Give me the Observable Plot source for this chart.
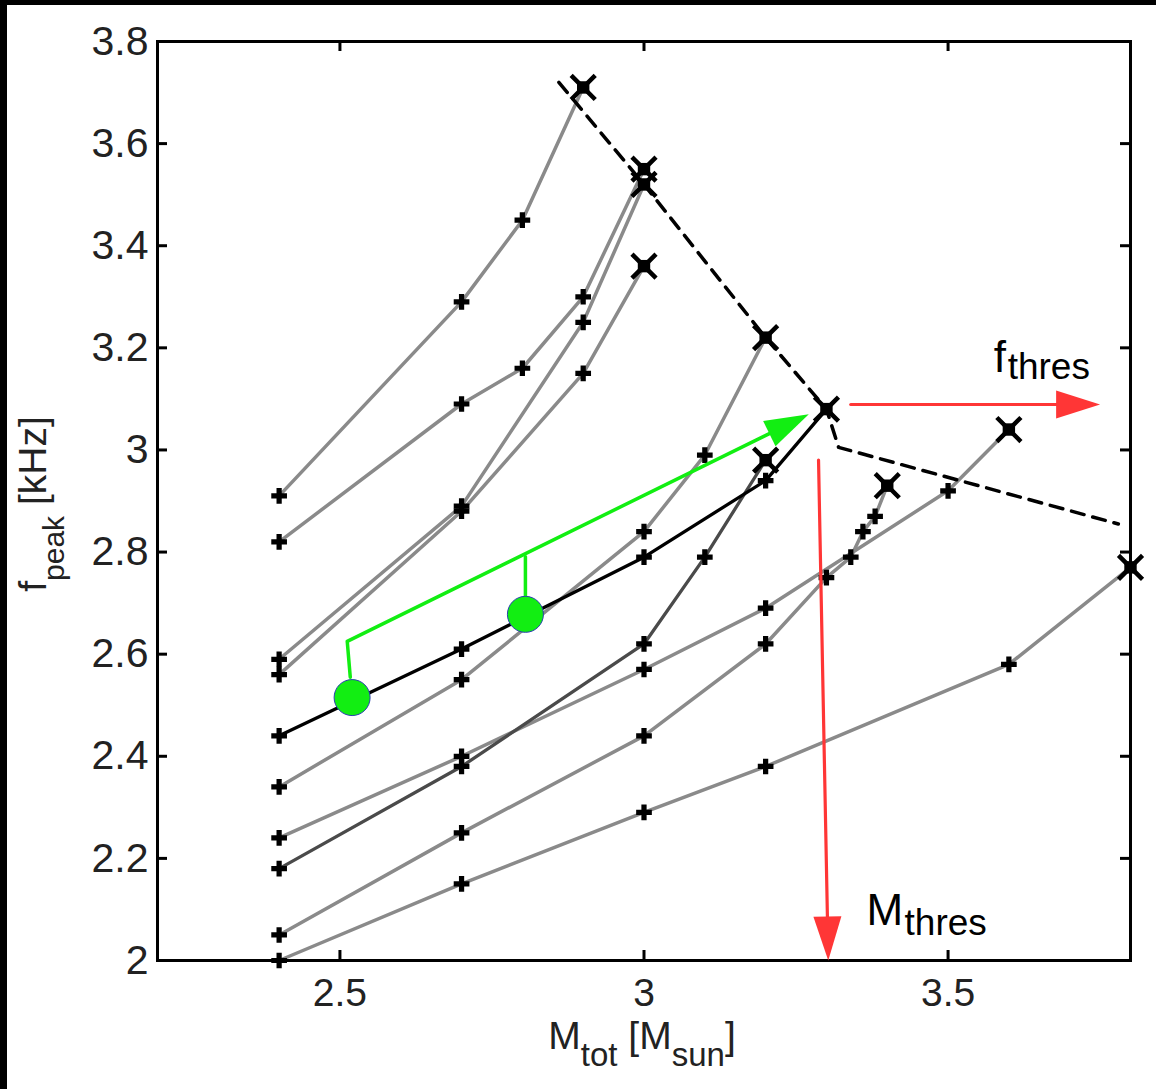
<!DOCTYPE html>
<html><head><meta charset="utf-8">
<script src="https://cdn.jsdelivr.net/npm/d3@7"></script>
<script src="https://cdn.jsdelivr.net/npm/@observablehq/plot@0.6"></script>
<style>
body{margin:0;background:#fff;}
#wrap{position:relative;width:1156px;height:1089px;overflow:hidden;background:#fff;}
#chart{position:absolute;left:0;top:0;}
.bar{position:absolute;background:#000;}
</style></head><body>
<div id="wrap"><div id="chart"></div>
<div class="bar" style="left:0;top:0;width:1156px;height:5px"></div>
<div class="bar" style="left:0;top:0;width:7px;height:1089px"></div></div>
<script>
// ---- tick values ----
const xTicks = [2.5, 3, 3.5];
const yTicks = [2, 2.2, 2.4, 2.6, 2.8, 3, 3.2, 3.4, 3.6, 3.8];

// ---- sequences: total mass [Msun] and peak frequency [kHz] ----
const mA = [2.4, 2.7, 2.8, 2.9];            const fA = [2.91, 3.29, 3.45, 3.71];
const mB = [2.4, 2.7, 2.8, 2.9, 3.0];       const fB = [2.82, 3.09, 3.16, 3.30, 3.55];
const mC = [2.4, 2.7, 2.9, 3.0];            const fC = [2.59, 2.89, 3.25, 3.52];
const mD = [2.4, 2.7, 2.9, 3.0];            const fD = [2.56, 2.88, 3.15, 3.36];
const mE = [2.4, 2.7, 3.0, 3.2, 3.3];       const fE = [2.44, 2.61, 2.79, 2.94, 3.08];
const mF = [2.4, 2.7, 3.0, 3.1, 3.2];       const fF = [2.34, 2.55, 2.84, 2.99, 3.22];
const mG = [2.4, 2.7, 3.0, 3.2, 3.5, 3.6];  const fG = [2.24, 2.40, 2.57, 2.69, 2.92, 3.04];
const mH = [2.4, 2.7, 3.0, 3.1, 3.2];       const fH = [2.18, 2.38, 2.62, 2.79, 2.98];
const mI = [2.4, 2.7, 3.0, 3.2, 3.3, 3.34, 3.36, 3.38, 3.4]; const fI = [2.05, 2.25, 2.44, 2.62, 2.75, 2.79, 2.84, 2.87, 2.93];
const mJ = [2.4, 2.7, 3.0, 3.2, 3.6, 3.8];  const fJ = [2.00, 2.15, 2.29, 2.38, 2.58, 2.77];
const seriesNames = ["A","B","C","D","E","F","G","H","I","J"];

// ---- threshold (dashed) curve ----
const thrM = [2.86, 3.0, 3.2, 3.3, 3.32, 3.78];
const thrF = [3.72, 3.52, 3.22, 3.08, 3.005, 2.855];

// ---- annotations ----
const circM = [2.52, 2.805];
const circF = [2.515, 2.678];
const greenPathM = [2.517, 2.512, 3.271];
const greenPathF = [2.555, 2.625, 3.07];
const greenStubM = [2.805, 2.805];
const greenStubF = [2.713, 2.791];
const fThresArrowM = [3.34, 3.75];
const fThresArrowF = [3.089, 3.089];
const mThresArrowM = [3.287, 3.303];
const mThresArrowF = [2.98, 2.0];
const fThresLabel = {main: "f", sub: "thres", m: 3.575, f: 3.152};
const mThresLabel = {main: "M", sub: "thres", m: 3.366, f: 2.069};

// ---- build tables ----
const seriesM = [mA,mB,mC,mD,mE,mF,mG,mH,mI,mJ];
const seriesF = [fA,fB,fC,fD,fE,fF,fG,fH,fI,fJ];
const rows = [];
seriesNames.forEach((s, k) => {
  seriesM[k].forEach((m, i) => rows.push({series: s, m, f: seriesF[k][i], end: i === seriesM[k].length - 1}));
});
const blackSeries = "E", darkSeries = "H";
const greyRows = rows.filter(d => d.series !== blackSeries && d.series !== darkSeries);
const darkRows = rows.filter(d => d.series === darkSeries);
const blackRows = rows.filter(d => d.series === blackSeries);
const zip = (ms, fs) => ms.map((m, i) => ({m, f: fs[i]}));

const W = 1156, H = 1089, mL = 157, mT = 41, mR = 26, mB_ = 129;
const fw = W - mL - mR, fh = H - mT - mB_;
const xDomain = [2.2, 3.8], yDomain = [2, 3.8];
const xs = Plot.scale({x: {domain: xDomain, range: [mL, W - mR]}});
const ys = Plot.scale({y: {domain: yDomain, range: [H - mB_, mT]}});

// arrow: returns shortened shaft + head symbol
const HEAD_L = 44, HEAD_W = 14;
function arrowParts(ms, fs) {
  const x1 = xs.apply(ms[0]), y1 = ys.apply(fs[0]), x2 = xs.apply(ms[1]), y2 = ys.apply(fs[1]);
  const dx = x2 - x1, dy = y2 - y1, len = Math.hypot(dx, dy);
  const ux = dx / len, uy = dy / len;
  const bx = x2 - ux * (HEAD_L - 4), by = y2 - uy * (HEAD_L - 4);
  const shaft = [{m: ms[0], f: fs[0]}, {m: xs.invert(bx), f: ys.invert(by)}];
  const symbol = {draw(ctx) {
    const px = -uy, py = ux;
    ctx.moveTo(0, 0);
    ctx.lineTo(-ux * HEAD_L + px * HEAD_W, -uy * HEAD_L + py * HEAD_W);
    ctx.lineTo(-ux * HEAD_L - px * HEAD_W, -uy * HEAD_L - py * HEAD_W);
    ctx.closePath();
  }};
  return {shaft, tip: [{m: ms[1], f: fs[1]}], symbol};
}
const redF = arrowParts(fThresArrowM, fThresArrowF);
const redM = arrowParts(mThresArrowM, mThresArrowF);
const gPath = zip(greenPathM, greenPathF);
const greenA = arrowParts(greenPathM.slice(1), greenPathF.slice(1));
const greenShaft = [gPath[0], gPath[1], greenA.shaft[1]];

const RED = "#ff3636", GREEN = "#12ee12";
const fmt = d => String(+d.toFixed(2));

const chart = Plot.plot({
  width: W, height: H, marginLeft: mL, marginTop: mT, marginRight: mR, marginBottom: mB_,
  x: {domain: xDomain}, y: {domain: yDomain},
  style: {fontFamily: "'Liberation Sans', Arial, sans-serif", background: "transparent", color: "#000"},
  marks: [
    Plot.axisX(xTicks, {tickSize: 0, tickPadding: 18, fontSize: 39, fill: "#222", tickFormat: fmt, label: null}),
    Plot.axisY(yTicks, {tickSize: 0, tickPadding: 9, fontSize: 41, fill: "#222", tickFormat: fmt, label: null}),
    Plot.tickX(xTicks, {x: d => d, insetTop: fh - 10, stroke: "#000", strokeWidth: 3}),
    Plot.tickX(xTicks, {x: d => d, insetBottom: fh - 10, stroke: "#000", strokeWidth: 3}),
    Plot.tickY(yTicks, {y: d => d, insetRight: fw - 10, stroke: "#000", strokeWidth: 3}),
    Plot.tickY(yTicks, {y: d => d, insetLeft: fw - 10, stroke: "#000", strokeWidth: 3}),
    Plot.frame({stroke: "#000", strokeWidth: 3}),
    Plot.line(greyRows, {x: "m", y: "f", z: "series", stroke: "#8a8a8a", strokeWidth: 3.5}),
    Plot.line(darkRows, {x: "m", y: "f", z: "series", stroke: "#4a4a4a", strokeWidth: 3.3}),
    Plot.line(blackRows, {x: "m", y: "f", z: "series", stroke: "#000", strokeWidth: 3.3}),
    Plot.line(zip(thrM, thrF), {x: "m", y: "f", stroke: "#000", strokeWidth: 3.5, strokeDasharray: "13,9"}),
    Plot.dot(rows.filter(d => !d.end), {x: "m", y: "f", symbol: "cross", r: 6.6, fill: "#000", stroke: null}),
    Plot.dot(rows.filter(d => d.end), {x: "m", y: "f", symbol: "times", r: 11, stroke: "#000", strokeWidth: 4.5}),
    Plot.dot(rows.filter(d => d.end), {x: "m", y: "f", symbol: "square", r: 7, fill: "#000", stroke: null}),
    // green annotation
    Plot.line(greenShaft, {x: "m", y: "f", stroke: GREEN, strokeWidth: 3.5}),
    Plot.line(zip(greenStubM, greenStubF), {x: "m", y: "f", stroke: GREEN, strokeWidth: 3.5}),
    Plot.dot(greenA.tip, {x: "m", y: "f", symbol: greenA.symbol, fill: GREEN, stroke: null}),
    Plot.dot(zip(circM, circF), {x: "m", y: "f", r: 18, fill: GREEN, stroke: "#2a3fb0", strokeWidth: 1}),
    // red arrows
    Plot.line(redF.shaft, {x: "m", y: "f", stroke: RED, strokeWidth: 3.2}),
    Plot.dot(redF.tip, {x: "m", y: "f", symbol: redF.symbol, fill: RED, stroke: null}),
    Plot.line(redM.shaft, {x: "m", y: "f", stroke: RED, strokeWidth: 3.2}),
    Plot.dot(redM.tip, {x: "m", y: "f", symbol: redM.symbol, fill: RED, stroke: null}),
    // threshold labels
    Plot.text([fThresLabel], {x: "m", y: "f", text: "main", fontSize: 44, textAnchor: "start", lineAnchor: "bottom", fill: "#000"}),
    Plot.text([fThresLabel], {x: "m", y: "f", text: "sub", fontSize: 37, dx: 14, dy: 7, textAnchor: "start", lineAnchor: "bottom", fill: "#000"}),
    Plot.text([mThresLabel], {x: "m", y: "f", text: "main", fontSize: 44, textAnchor: "start", lineAnchor: "bottom", fill: "#000"}),
    Plot.text([mThresLabel], {x: "m", y: "f", text: "sub", fontSize: 37, dx: 38, dy: 10, textAnchor: "start", lineAnchor: "bottom", fill: "#000"})
  ]
});
document.getElementById("chart").appendChild(chart);

// axis titles with subscripts
const svg = d3.select(chart);
const xl = svg.append("text").attr("x", 642).attr("y", 1049).attr("text-anchor", "middle")
  .attr("font-size", 39).attr("fill", "#222").attr("font-family", "'Liberation Sans', Arial, sans-serif");
xl.append("tspan").text("M");
xl.append("tspan").attr("dy", 17).attr("font-size", 33).text("tot");
xl.append("tspan").attr("dy", -17).text(" [M");
xl.append("tspan").attr("dy", 17).attr("font-size", 33).text("sun");
xl.append("tspan").attr("dy", -17).text("]");

const yl = svg.append("text").attr("transform", "translate(46,504) rotate(-90)").attr("text-anchor", "middle")
  .attr("font-size", 39).attr("fill", "#222").attr("font-family", "'Liberation Sans', Arial, sans-serif");
yl.append("tspan").text("f");
yl.append("tspan").attr("dy", 18).attr("font-size", 30).text("peak");
yl.append("tspan").attr("dy", -18).text(" [kHz]");
</script>
</body></html>
